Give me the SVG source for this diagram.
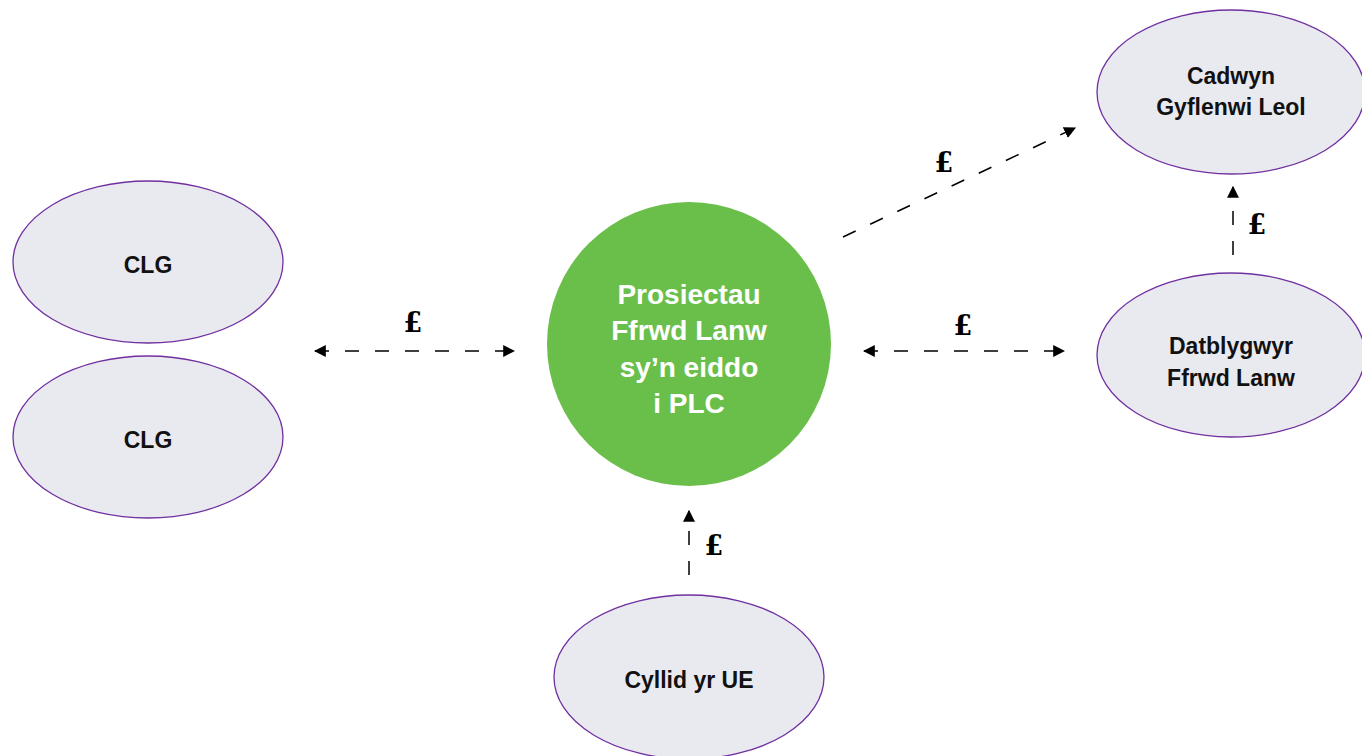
<svg xmlns="http://www.w3.org/2000/svg" width="1362" height="756" viewBox="0 0 1362 756">
<defs>
<marker id="ah" viewBox="0 0 10 10" refX="9" refY="5" markerWidth="12" markerHeight="12" markerUnits="userSpaceOnUse" orient="auto-start-reverse">
<path d="M0,0 L10,5 L0,10 z" fill="#000"/>
</marker>
<style>
.node{fill:#e9e9f0;stroke:#7030a0;stroke-width:1.3}
.lbl{font-family:"Liberation Sans",Arial,sans-serif;font-weight:bold;font-size:23px;fill:#111;text-anchor:middle}
.main{font-family:"Liberation Sans",Arial,sans-serif;font-weight:bold;font-size:28px;fill:#fff;text-anchor:middle}
.conn{stroke:#000;stroke-width:1.5;fill:none;stroke-dasharray:14 16}
.pound{font-family:"DejaVu Serif",Georgia,serif;font-weight:bold;font-size:27px;fill:#000;text-anchor:middle}
</style>
</defs>
<rect width="1362" height="756" fill="#fff"/>
<g id="clg1"><ellipse class="node" cx="148" cy="262" rx="135" ry="81"/><text class="lbl" x="148" y="273">CLG</text></g>
<g id="clg2"><ellipse class="node" cx="148" cy="437" rx="135" ry="81"/><text class="lbl" x="148" y="448">CLG</text></g>
<g id="plc"><circle cx="689" cy="344" r="142" fill="#6abf4b"/>
<text class="main" x="689" y="304">Prosiectau</text>
<text class="main" x="689" y="340">Ffrwd Lanw</text>
<text class="main" x="689" y="377">sy’n eiddo</text>
<text class="main" x="689" y="413">i PLC</text></g>
<g id="cadwyn"><ellipse class="node" cx="1231" cy="92" rx="134" ry="82"/><text class="lbl" x="1231" y="84">Cadwyn</text><text class="lbl" x="1231" y="115">Gyflenwi Leol</text></g>
<g id="datblygwyr"><ellipse class="node" cx="1231" cy="355" rx="134" ry="82"/><text class="lbl" x="1231" y="354">Datblygwyr</text><text class="lbl" x="1231" y="386">Ffrwd Lanw</text></g>
<g id="cyllid"><ellipse class="node" cx="689" cy="677" rx="135" ry="82"/><text class="lbl" x="689" y="688">Cyllid yr UE</text></g>
<g id="connectors">
<line class="conn" x1="315" y1="351" x2="514" y2="351" marker-start="url(#ah)" marker-end="url(#ah)"/>
<line class="conn" x1="864" y1="351" x2="1064" y2="351" marker-start="url(#ah)" marker-end="url(#ah)"/>
<line class="conn" x1="843" y1="237" x2="1075" y2="128" marker-end="url(#ah)"/>
<line class="conn" x1="1233" y1="255" x2="1233" y2="187" marker-end="url(#ah)"/>
<line class="conn" x1="689" y1="575" x2="689" y2="511" marker-end="url(#ah)"/>
<text class="pound" x="413" y="332">£</text>
<text class="pound" x="963" y="335">£</text>
<text class="pound" x="944" y="172">£</text>
<text class="pound" x="1257" y="234">£</text>
<text class="pound" x="714" y="555">£</text>
</g>
</svg>
